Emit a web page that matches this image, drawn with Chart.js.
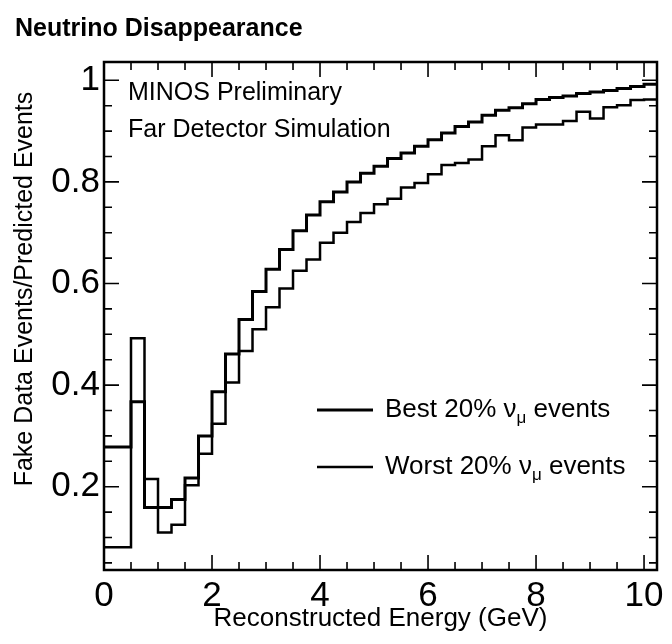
<!DOCTYPE html>
<html>
<head>
<meta charset="utf-8">
<script src="https://cdn.jsdelivr.net/npm/chart.js@4/dist/chart.umd.min.js"></script>
<style>
  body { margin: 0; background: #fff; }
  canvas { display: block; }
</style>
</head>
<body>
<canvas id="chart" width="672" height="644"></canvas>
<script>
// Histogram bin edges (GeV): first bin is 0-0.5, then 0.25 GeV bins
const binEdges = [0, 0.5, 0.75, 1.0, 1.25, 1.5, 1.75, 2.0, 2.25, 2.5, 2.75,
    3.0, 3.25, 3.5, 3.75, 4.0, 4.25, 4.5, 4.75, 5.0, 5.25, 5.5, 5.75,
    6.0, 6.25, 6.5, 6.75, 7.0, 7.25, 7.5, 7.75, 8.0, 8.25, 8.5, 8.75,
    9.0, 9.25, 9.5, 9.75, 10.0, 10.25];

// Ratio fake data / predicted, one value per bin
const bestValues = [0.278, 0.367, 0.159, 0.159, 0.175, 0.217, 0.300, 0.387, 0.461, 0.529,
    0.584, 0.628, 0.667, 0.704, 0.735, 0.761, 0.780, 0.800, 0.817, 0.831,
    0.846, 0.857, 0.870, 0.883, 0.896, 0.909, 0.918, 0.931, 0.941, 0.946,
    0.954, 0.962, 0.966, 0.969, 0.974, 0.977, 0.980, 0.984, 0.988, 0.992];
const worstValues = [0.081, 0.492, 0.215, 0.110, 0.125, 0.203, 0.265, 0.324, 0.405, 0.467,
    0.510, 0.553, 0.590, 0.625, 0.647, 0.680, 0.700, 0.721, 0.739, 0.756,
    0.767, 0.789, 0.798, 0.815, 0.833, 0.837, 0.844, 0.870, 0.892, 0.882,
    0.907, 0.913, 0.913, 0.920, 0.938, 0.925, 0.947, 0.951, 0.961, 0.962];

const seriesNames = ["Best 20%", "Worst 20%"];
const xTickValues = [0, 2, 4, 6, 8, 10];
const yTickValues = [0.2, 0.4, 0.6, 0.8, 1];

const FONT = '"Liberation Sans", Arial, Helvetica, sans-serif';

// turn bins into points for a stepped line
function toSteps(edges, values) {
    const pts = values.map((v, i) => ({ x: edges[i], y: v }));
    pts.push({ x: edges[edges.length - 1], y: values[values.length - 1] });
    return pts;
}

function drawText(ctx, s, x, y, size, bold) {
    ctx.font = (bold ? "bold " : "") + size + "px " + FONT;
    ctx.fillText(s, x, y);
    return ctx.measureText(s).width;
}

const framePlugin = {
    id: "frame",
    afterDraw(chart) {
        const ctx = chart.ctx;
        const a = chart.chartArea;
        const xs = chart.scales.x, ys = chart.scales.y;
        ctx.save();
        ctx.fillStyle = "#000";
        ctx.strokeStyle = "#000";

        // frame
        ctx.lineWidth = 2.5;
        ctx.strokeRect(a.left, a.top, a.right - a.left, a.bottom - a.top);

        // inward ticks on all four sides
        ctx.lineWidth = 1.6;
        ctx.beginPath();
        for (let v = 0; v <= xs.max + 1e-9; v += 0.5) {
            const px = xs.getPixelForValue(v);
            const len = xTickValues.some(t => Math.abs(t - v) < 1e-6) ? 15 : 8;
            ctx.moveTo(px, a.bottom); ctx.lineTo(px, a.bottom - len);
            ctx.moveTo(px, a.top); ctx.lineTo(px, a.top + len);
        }
        for (let v = 0.05; v <= ys.max + 1e-9; v += 0.05) {
            if (v < ys.min) continue;
            const py = ys.getPixelForValue(v);
            const len = yTickValues.some(t => Math.abs(t - v) < 1e-6) ? 15 : 8;
            ctx.moveTo(a.left, py); ctx.lineTo(a.left + len, py);
            ctx.moveTo(a.right, py); ctx.lineTo(a.right - len, py);
        }
        ctx.stroke();

        // title
        ctx.textAlign = "left";
        ctx.textBaseline = "alphabetic";
        drawText(ctx, "Neutrino Disappearance", 15, 36, 25, true);

        // annotations
        drawText(ctx, "MINOS Preliminary", 128, 100, 25);
        drawText(ctx, "Far Detector Simulation", 128, 137, 25);

        // legend
        const legendY = [410, 467];
        chart.data.datasets.forEach((ds, i) => {
            const y = legendY[i];
            ctx.lineWidth = ds.borderWidth;
            ctx.beginPath();
            ctx.moveTo(317, y); ctx.lineTo(373, y);
            ctx.stroke();
            let x = 385;
            const base = y + 7;
            x += drawText(ctx, seriesNames[i] + " \u03bd", x, base, 26);
            x += drawText(ctx, "\u03bc", x, base + 6, 17);
            drawText(ctx, " events", x, base, 26);
        });

        // axis titles
        ctx.textAlign = "center";
        drawText(ctx, "Reconstructed Energy (GeV)", (a.left + a.right) / 2, 626, 26);
        ctx.translate(31.5, 289);
        ctx.rotate(-Math.PI / 2);
        drawText(ctx, "Fake Data Events/Predicted Events", 0, 0, 25);
        ctx.restore();
    }
};

const ctx = document.getElementById("chart").getContext("2d");
new Chart(ctx, {
    type: "line",
    data: {
        datasets: [
            {
                label: seriesNames[0],
                data: toSteps(binEdges, bestValues),
                borderColor: "#000",
                borderWidth: 3,
                stepped: true,
                pointRadius: 0,
                fill: false
            },
            {
                label: seriesNames[1],
                data: toSteps(binEdges, worstValues),
                borderColor: "#000",
                borderWidth: 2.5,
                stepped: true,
                pointRadius: 0,
                fill: false
            }
        ]
    },
    options: {
        responsive: false,
        animation: false,
        layout: { padding: { top: 62, right: 15, left: 0, bottom: 0 } },
        plugins: {
            legend: { display: false },
            tooltip: { enabled: false }
        },
        scales: {
            x: {
                type: "linear",
                min: 0,
                max: 10.24,
                grid: { display: false, drawTicks: false },
                border: { display: false },
                afterBuildTicks: s => { s.ticks = xTickValues.map(v => ({ value: v })); },
                afterFit: s => { s.height = 74; s.paddingLeft = 0; s.paddingRight = 0; },
                ticks: {
                    autoSkip: false,
                    maxRotation: 0,
                    padding: 5,
                    color: "#000",
                    font: { family: FONT, size: 35 },
                    callback: v => String(v)
                }
            },
            y: {
                type: "linear",
                min: 0.036,
                max: 1.036,
                grid: { display: false, drawTicks: false },
                border: { display: false },
                afterBuildTicks: s => { s.ticks = yTickValues.map(v => ({ value: v })); },
                afterFit: s => { s.width = 104; s.paddingTop = 0; s.paddingBottom = 0; },
                ticks: {
                    autoSkip: false,
                    padding: 4,
                    color: "#000",
                    font: { family: FONT, size: 35 },
                    callback: v => String(v)
                }
            }
        }
    },
    plugins: [framePlugin]
});
</script>
</body>
</html>
